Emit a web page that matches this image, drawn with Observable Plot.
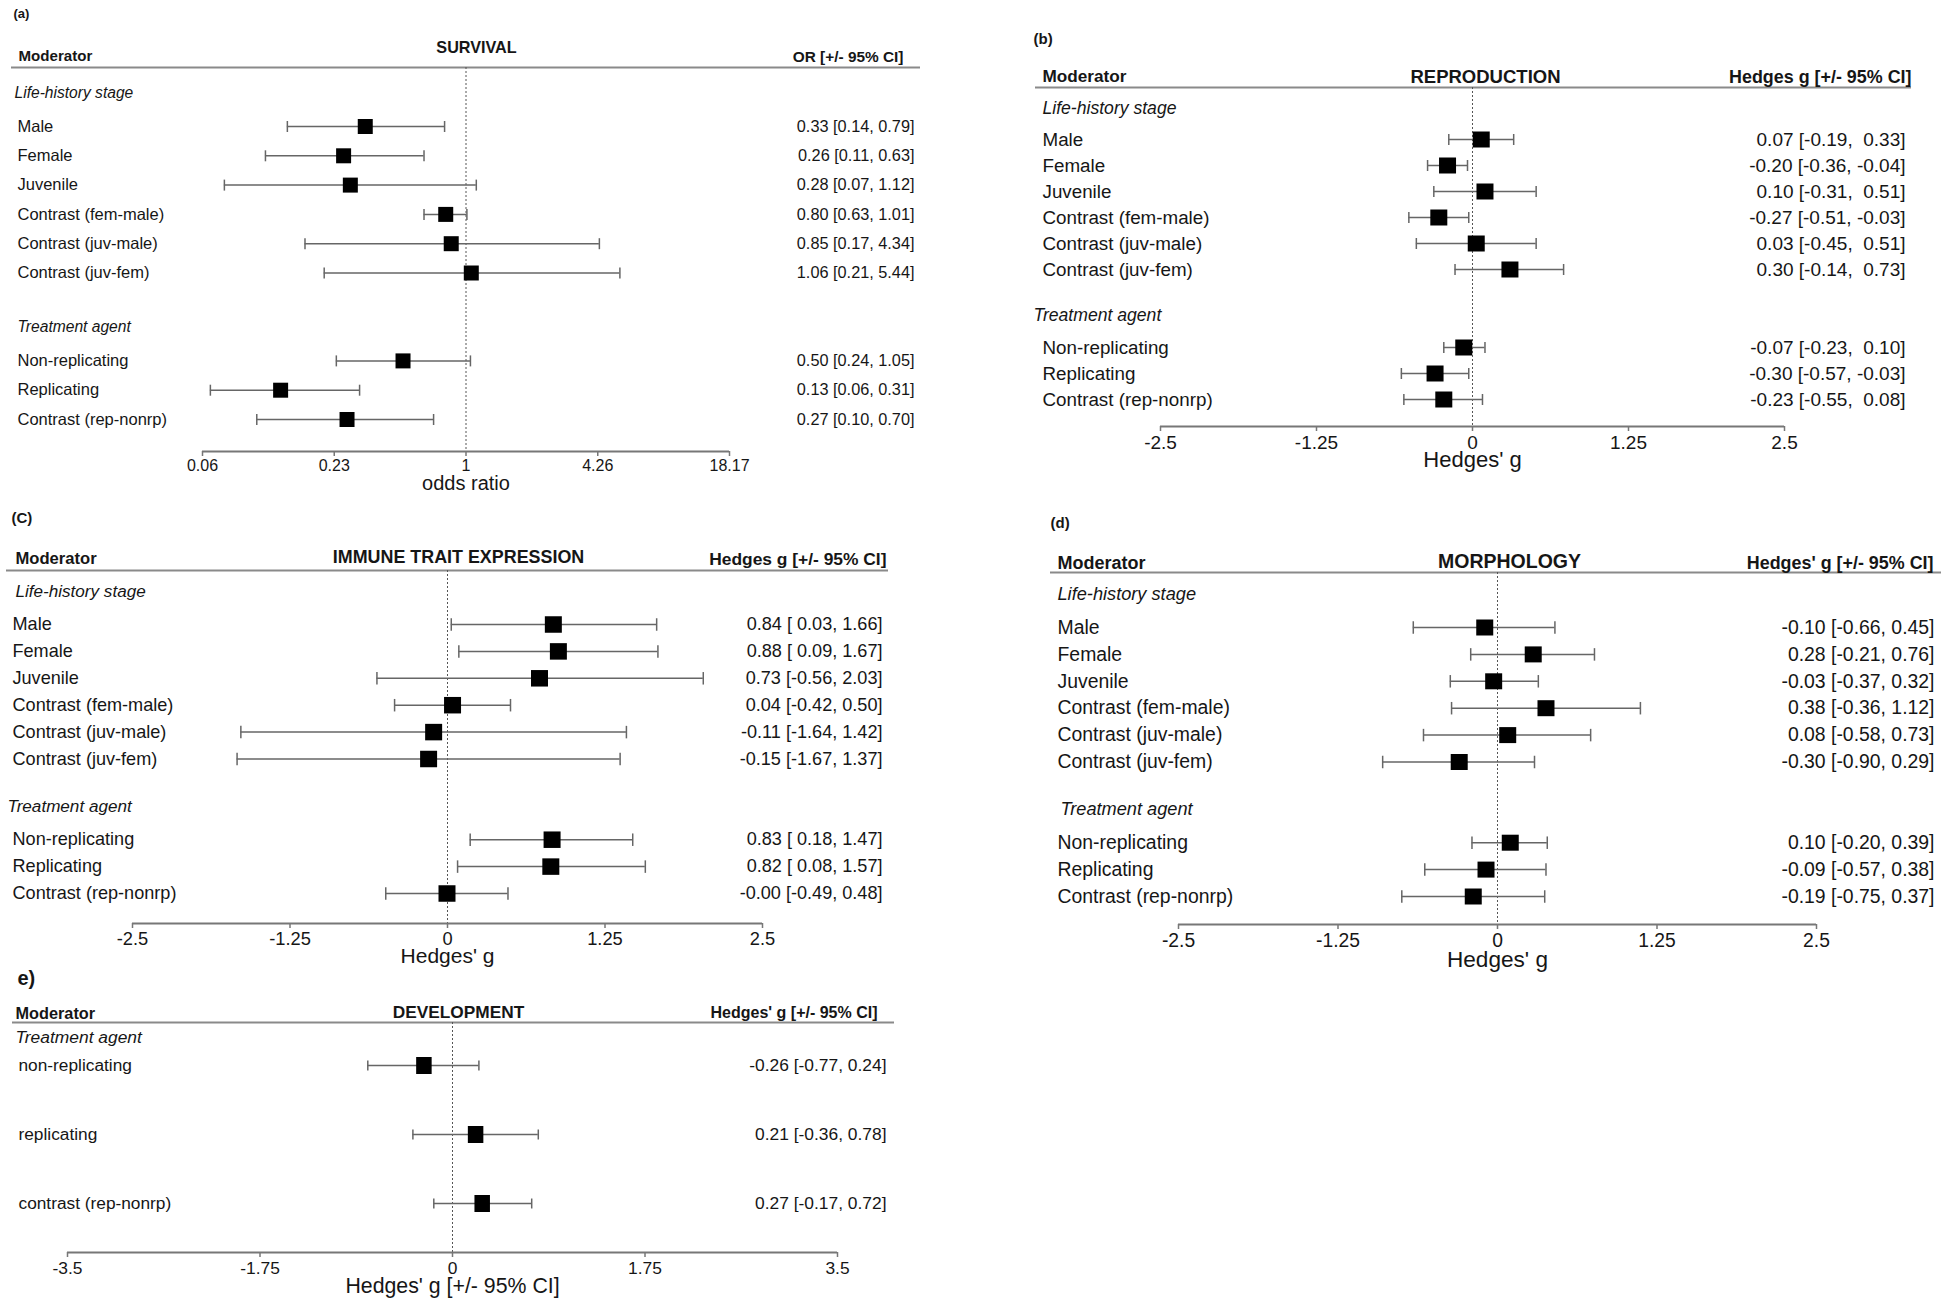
<!DOCTYPE html>
<html><head><meta charset="utf-8">
<script src="https://cdn.jsdelivr.net/npm/d3@7"></script>
<script src="https://cdn.jsdelivr.net/npm/@observablehq/plot@0.6"></script>
<style>
html,body{margin:0;padding:0;background:#fff;}
#wrap{position:relative;width:1946px;height:1304px;overflow:hidden;background:#fff;}
#wrap svg{position:absolute;left:0;top:0;background:transparent !important;}
#wrap text{white-space:pre;}
</style></head><body><div id="wrap"></div>
<script>
// ---------------- data ----------------
const lifeStages = ["Male","Female","Juvenile","Contrast (fem-male)","Contrast (juv-male)","Contrast (juv-fem)"];
const agents = ["Non-replicating","Replicating","Contrast (rep-nonrp)"];
const agentsDev = ["non-replicating","replicating","contrast (rep-nonrp)"];

const survivalOR   = [0.33,0.26,0.28,0.80,0.85,1.06,0.50,0.13,0.27];
const survivalLow  = [0.14,0.11,0.07,0.63,0.17,0.21,0.24,0.06,0.10];
const survivalHigh = [0.79,0.63,1.12,1.01,4.34,5.44,1.05,0.31,0.70];
const survivalTickLn = [-2.9,-1.45,0,1.45,2.9];   // ticks on the log-odds scale
const survivalTickLabels = ["0.06","0.23","1","4.26","18.17"];

const reproG    = [0.07,-0.20,0.10,-0.27,0.03,0.30,-0.07,-0.30,-0.23];
const reproLow  = [-0.19,-0.36,-0.31,-0.51,-0.45,-0.14,-0.23,-0.57,-0.55];
const reproHigh = [0.33,-0.04,0.51,-0.03,0.51,0.73,0.10,-0.03,0.08];

const immuneG    = [0.84,0.88,0.73,0.04,-0.11,-0.15,0.83,0.82,-0.004];
const immuneLow  = [0.03,0.09,-0.56,-0.42,-1.64,-1.67,0.18,0.08,-0.49];
const immuneHigh = [1.66,1.67,2.03,0.50,1.42,1.37,1.47,1.57,0.48];

const morphG    = [-0.10,0.28,-0.03,0.38,0.08,-0.30,0.10,-0.09,-0.19];
const morphLow  = [-0.66,-0.21,-0.37,-0.36,-0.58,-0.90,-0.20,-0.57,-0.75];
const morphHigh = [0.45,0.76,0.32,1.12,0.73,0.29,0.39,0.38,0.37];

const devG    = [-0.26,0.21,0.27];
const devLow  = [-0.77,-0.36,-0.17];
const devHigh = [0.24,0.78,0.72];

const hedgesTicks = [-2.5,-1.25,0,1.25,2.5];
const hedgesTickLabels = ["-2.5","-1.25","0","1.25","2.5"];
const devTicks = [-3.5,-1.75,0,1.75,3.5];
const devTickLabels = ["-3.5","-1.75","0","1.75","3.5"];

// ---------------- helpers ----------------
const W = 1946, H = 1304;
const FONT = "'Liberation Sans', Arial, Helvetica, sans-serif";
const TXT = "#161616";
const f2 = v => v.toFixed(2);
const p5 = v => f2(v).padStart(5);
const fmtPlain = (e,l,h) => `${f2(e)} [${f2(l)}, ${f2(h)}]`;
const fmtPadBoth = (e,l,h) => `${f2(e)} [${p5(l)}, ${p5(h)}]`;
const fmtPadLow = (e,l,h) => `${f2(e)} [${p5(l)}, ${f2(h)}]`;
const identity = v => v;

const rectSymbol = (w, h) => ({draw(ctx){ ctx.rect(-w/2, -h/2, w, h); }});
const capSymbol = (h) => ({draw(ctx){ ctx.moveTo(0, -h/2); ctx.lineTo(0, h/2); }});

function forest(c) {
  const xf = c.xf || identity;
  const idx = c.rowIdx;
  const step = (c.lastPx - c.firstPx) / (idx[idx.length-1] - idx[0]);
  const yr = px => idx[0] + (px - c.firstPx) / step;
  const rows = c.labels.map((label,i) => ({label, row: idx[i],
    est: xf(c.est[i]), lo: xf(c.lo[i]), hi: xf(c.hi[i]),
    txt: c.fmt(c.est[i], c.lo[i], c.hi[i])}));
  const one = (s, px) => [{s, y: yr(px)}];
  const refPx = (c.xRange[0] + c.xRange[1]) / 2;
  const tickMap = new Map(c.ticks.map((t,i) => [t, c.tickLabels[i]]));
  const marks = [
    Plot.ruleY(one("", c.headerPx), {y: "y", stroke: "#8a8a8a", strokeWidth: 2.2}),
    Plot.ruleX([c.ref], {x: d => d, stroke: "#555", strokeWidth: 1, strokeDasharray: "2,2"}),
    Plot.ruleY(one("", c.axisPx), {y: "y", x1: () => c.xDomain[0], x2: () => c.xDomain[1], stroke: "#777", strokeWidth: 2}),
    Plot.axisX({ticks: c.ticks, tickFormat: d => tickMap.get(d), tickSize: 5, tickPadding: c.tickPad,
      fontSize: c.fsTick, stroke: "#777", strokeWidth: 1.5, fill: TXT, label: null}),
    Plot.ruleY(rows, {y: "row", x1: "lo", x2: "hi", stroke: "#666", strokeWidth: 1.5}),
    Plot.dot(rows, {x: "lo", y: "row", symbol: capSymbol(c.cap), stroke: "#666", strokeWidth: 1.5}),
    Plot.dot(rows, {x: "hi", y: "row", symbol: capSymbol(c.cap), stroke: "#666", strokeWidth: 1.5}),
    Plot.dot(rows, {x: "est", y: "row", symbol: rectSymbol(c.sqW, c.sqH), fill: "#000", stroke: "none"}),
    Plot.text(rows, {y: "row", text: "label", frameAnchor: "left", textAnchor: "start", dx: c.labelL - c.lineL,
      fontSize: c.fsLabel, fill: TXT}),
    Plot.text(rows, {y: "row", text: "txt", frameAnchor: "right", textAnchor: "end", dx: c.valR - c.lineR,
      fontSize: c.fsVal, fill: TXT}),
    // header row
    Plot.text(one("Moderator", c.modY), {y: "y", text: "s", frameAnchor: "left", textAnchor: "start",
      dx: c.modL - c.lineL, fontSize: c.fsMod, fontWeight: "bold", fill: TXT}),
    Plot.text(one(c.title, c.titleY), {x: () => c.ref, y: "y", text: "s", dx: c.titleX - refPx,
      fontSize: c.fsTitle, fontWeight: "bold", fill: TXT}),
    Plot.text(one(c.hdr, c.hdrY), {y: "y", text: "s", frameAnchor: "right", textAnchor: "end",
      dx: c.hdrR - c.lineR, fontSize: c.fsHdr, fontWeight: "bold", fill: TXT}),
    Plot.text(one(c.panel, c.panelY), {y: "y", text: "s", frameAnchor: "left", textAnchor: "start",
      dx: c.panelL - c.lineL, fontSize: c.fsPanel, fontWeight: "bold", fill: TXT}),
    // axis title
    Plot.text(one(c.axisTitle, c.axisTitleY), {x: () => c.ref, y: "y", text: "s", fontSize: c.fsAxisTitle, fill: TXT})
  ];
  for (const g of c.groups) {
    marks.push(Plot.text(one(g.s, g.y), {y: "y", text: "s", frameAnchor: "left", textAnchor: "start",
      dx: g.x - c.lineL, fontSize: c.fsGroup, fontStyle: "italic", fill: TXT}));
  }
  return Plot.plot({
    width: W, height: H,
    marginTop: c.headerPx, marginBottom: H - c.axisPx, marginLeft: c.lineL, marginRight: W - c.lineR,
    x: {type: "linear", domain: c.xDomain, range: c.xRange},
    y: {domain: [yr(c.headerPx), yr(c.axisPx)], reverse: true, axis: null},
    style: {background: "transparent", fontFamily: FONT, overflow: "visible"},
    marks
  });
}

const nineRows = [0,1,2,3,4,5,8,9,10];
const wrap = document.getElementById("wrap");

// (a) SURVIVAL (odds ratios drawn on the log scale)
wrap.appendChild(forest({
  labels: [...lifeStages, ...agents], rowIdx: nineRows,
  est: survivalOR, lo: survivalLow, hi: survivalHigh, fmt: fmtPlain, xf: Math.log,
  xDomain: [survivalTickLn[0], survivalTickLn[4]], xRange: [202, 729], ref: 0,
  ticks: survivalTickLn, tickLabels: survivalTickLabels,
  headerPx: 67, axisPx: 451, firstPx: 126, lastPx: 419,
  lineL: 11, lineR: 920, labelL: 17, valR: 914,
  title: "SURVIVAL", titleX: 476, titleY: 47, modL: 18, modY: 56,
  hdr: "OR [+/- 95% CI]", hdrR: 903, hdrY: 57,
  panel: "(a)", panelL: 13, panelY: 13,
  groups: [{s: "Life-history stage", x: 14, y: 92}, {s: "Treatment agent", x: 17, y: 326}],
  axisTitle: "odds ratio", axisTitleY: 483,
  fsMod: 15.1, fsTitle: 16.2, fsHdr: 15.4, fsPanel: 13, fsLabel: 16.5, fsVal: 16.3, fsGroup: 15.6,
  fsTick: 16, tickPad: 3.2, fsAxisTitle: 20,
  sqW: 15, sqH: 15, cap: 11
}));

// (b) REPRODUCTION
wrap.appendChild(forest({
  labels: [...lifeStages, ...agents], rowIdx: nineRows,
  est: reproG, lo: reproLow, hi: reproHigh, fmt: fmtPadBoth,
  xDomain: [-2.5, 2.5], xRange: [1160, 1784], ref: 0,
  ticks: hedgesTicks, tickLabels: hedgesTickLabels,
  headerPx: 87, axisPx: 426, firstPx: 139, lastPx: 399,
  lineL: 1035, lineR: 1911, labelL: 1042, valR: 1905,
  title: "REPRODUCTION", titleX: 1485, titleY: 77, modL: 1042, modY: 76,
  hdr: "Hedges g [+/- 95% CI]", hdrR: 1911, hdrY: 77,
  panel: "(b)", panelL: 1033, panelY: 39,
  groups: [{s: "Life-history stage", x: 1042, y: 108}, {s: "Treatment agent", x: 1033, y: 315}],
  axisTitle: "Hedges' g", axisTitleY: 459,
  fsMod: 17.2, fsTitle: 18.5, fsHdr: 17.9, fsPanel: 15, fsLabel: 18.8, fsVal: 19, fsGroup: 17.6,
  fsTick: 19, tickPad: 4, fsAxisTitle: 22,
  sqW: 17, sqH: 16, cap: 11
}));

// (c) IMMUNE TRAIT EXPRESSION
wrap.appendChild(forest({
  labels: [...lifeStages, ...agents], rowIdx: nineRows,
  est: immuneG, lo: immuneLow, hi: immuneHigh, fmt: fmtPadLow,
  xDomain: [-2.5, 2.5], xRange: [132, 762], ref: 0,
  ticks: hedgesTicks, tickLabels: hedgesTickLabels,
  headerPx: 570, axisPx: 923, firstPx: 624, lastPx: 893,
  lineL: 6, lineR: 888, labelL: 12, valR: 882,
  title: "IMMUNE TRAIT EXPRESSION", titleX: 458, titleY: 557, modL: 15, modY: 558,
  hdr: "Hedges g [+/- 95% CI]", hdrR: 886, hdrY: 559,
  panel: "(C)", panelL: 11, panelY: 518,
  groups: [{s: "Life-history stage", x: 15, y: 591}, {s: "Treatment agent", x: 7, y: 806}],
  axisTitle: "Hedges' g", axisTitleY: 956,
  fsMod: 16.6, fsTitle: 17.9, fsHdr: 17.4, fsPanel: 15, fsLabel: 18.1, fsVal: 18.1, fsGroup: 17.1,
  fsTick: 18.3, tickPad: 3.4, fsAxisTitle: 21,
  sqW: 17, sqH: 16.5, cap: 12.5
}));

// (d) MORPHOLOGY
wrap.appendChild(forest({
  labels: [...lifeStages, ...agents], rowIdx: nineRows,
  est: morphG, lo: morphLow, hi: morphHigh, fmt: fmtPlain,
  xDomain: [-2.5, 2.5], xRange: [1178, 1816], ref: 0,
  ticks: hedgesTicks, tickLabels: hedgesTickLabels,
  headerPx: 572, axisPx: 924, firstPx: 627, lastPx: 896,
  lineL: 1050, lineR: 1941, labelL: 1057, valR: 1934,
  title: "MORPHOLOGY", titleX: 1509, titleY: 561, modL: 1057, modY: 563,
  hdr: "Hedges' g [+/- 95% CI]", hdrR: 1933, hdrY: 563,
  panel: "(d)", panelL: 1050, panelY: 523,
  groups: [{s: "Life-history stage", x: 1057, y: 594}, {s: "Treatment agent", x: 1060, y: 809}],
  axisTitle: "Hedges' g", axisTitleY: 959,
  fsMod: 18, fsTitle: 19.5, fsHdr: 17.9, fsPanel: 15, fsLabel: 19.4, fsVal: 19.4, fsGroup: 18.2,
  fsTick: 19.3, tickPad: 4, fsAxisTitle: 22.6,
  sqW: 17, sqH: 16, cap: 12.5
}));

// (e) DEVELOPMENT
wrap.appendChild(forest({
  labels: agentsDev, rowIdx: [0,1,2],
  est: devG, lo: devLow, hi: devHigh, fmt: fmtPlain,
  xDomain: [-3.5, 3.5], xRange: [67, 837], ref: 0,
  ticks: devTicks, tickLabels: devTickLabels,
  headerPx: 1022, axisPx: 1252, firstPx: 1065, lastPx: 1203,
  lineL: 12, lineR: 894, labelL: 18, valR: 886,
  title: "DEVELOPMENT", titleX: 458, titleY: 1012, modL: 15, modY: 1013,
  hdr: "Hedges' g [+/- 95% CI]", hdrR: 877, hdrY: 1012,
  panel: "e)", panelL: 17, panelY: 978,
  groups: [{s: "Treatment agent", x: 15, y: 1037}],
  axisTitle: "Hedges' g [+/- 95% CI]", axisTitleY: 1286,
  fsMod: 16.3, fsTitle: 17.3, fsHdr: 16, fsPanel: 20, fsLabel: 17.3, fsVal: 17.4, fsGroup: 17.4,
  fsTick: 17.4, tickPad: 4.5, fsAxisTitle: 21.3,
  sqW: 15.5, sqH: 17, cap: 10
}));
</script>
</body></html>
